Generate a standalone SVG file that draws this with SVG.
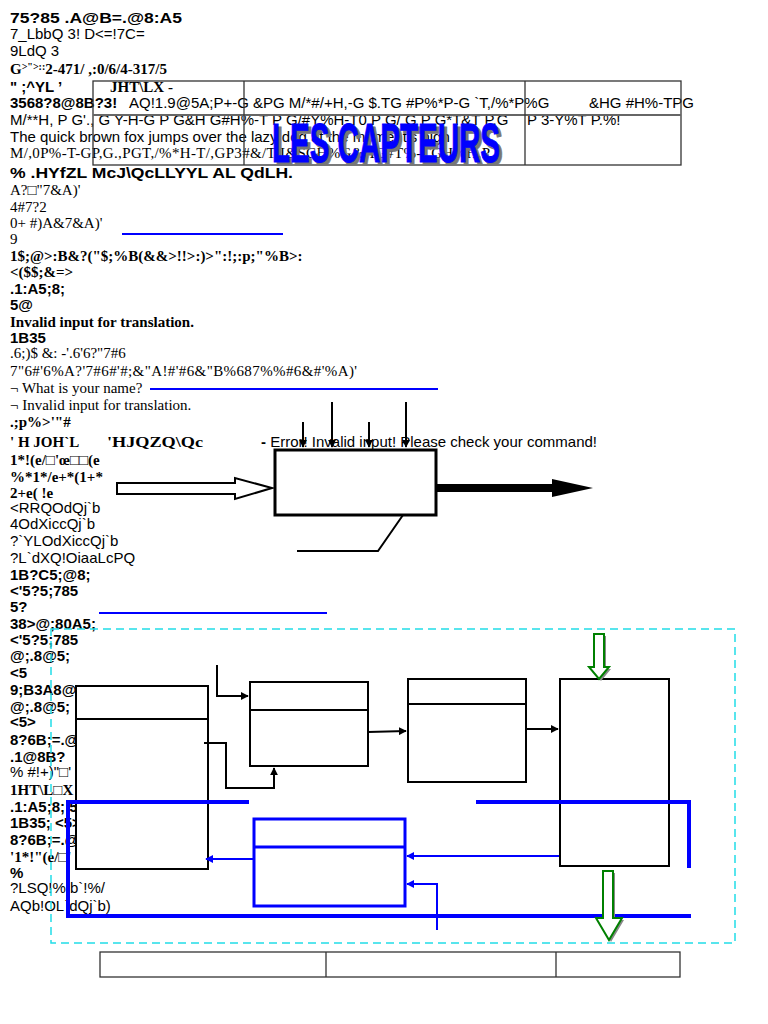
<svg xmlns="http://www.w3.org/2000/svg" width="768" height="1024" viewBox="0 0 768 1024">
<style>
.sb{font-family:"Liberation Sans",Arial,sans-serif;font-weight:bold;font-size:15px;fill:#000}
.sr{font-family:"Liberation Sans",Arial,sans-serif;font-size:15px;fill:#000}
.fb{font-family:"Liberation Serif","Times New Roman",serif;font-weight:bold;font-size:15px;fill:#000}
.fr{font-family:"Liberation Serif","Times New Roman",serif;font-size:15px;fill:#000}
.box{fill:#fff;stroke:#000;stroke-width:2}
.bbox{fill:#fff;stroke:#0000ff;stroke-width:3}
.div{stroke:#000;stroke-width:2}
.bl{stroke:#0000ff;stroke-width:4;fill:none}
.tl{stroke:#0000ff;stroke-width:2;fill:none}
.k{stroke:#000;stroke-width:2;fill:none}
.tb{fill:none;stroke:#333;stroke-width:1.3}
</style>
<defs>
<marker id="ak" viewBox="0 0 10 10" refX="9" refY="5" markerWidth="4" markerHeight="4" orient="auto"><path d="M0,0 L10,5 L0,10 z" fill="#000"/></marker>
<marker id="ab" viewBox="0 0 10 10" refX="9" refY="5" markerWidth="4" markerHeight="4" orient="auto"><path d="M0,0 L10,5 L0,10 z" fill="#0000ff"/></marker>
</defs>
<rect width="768" height="1024" fill="#fff"/>

<g id="textcolumn">
<text class="sb" x="10" y="23" font-size="18" textLength="172" lengthAdjust="spacingAndGlyphs">75?85 .A@B=.@8:A5</text>
<text class="sr" x="10" y="39">7_LbbQ 3! D&lt;=!7C=</text>
<text class="sr" x="10" y="56">9LdQ 3</text>
<text class="fb" x="10" y="74" font-size="14.5">G<tspan font-size="10" dy="-4">&gt;"&gt;::</tspan><tspan dy="4">2-471/ ,:0/6/4-317/5</tspan></text>
<text class="sb" x="10" y="92">" ;^YL ’</text>
<text class="fb" x="110" y="92" font-size="16">JHT\LX    -</text>
<text class="sb" x="10" y="108">3568?8@8B?3!</text>
<text class="sr" x="129" y="108">AQ!1.9@5A;P+-G &amp;PG M/*#/+H,-G $.TG #P%*P-G `T,/%*P%G</text>
<text class="sr" x="589" y="108">&amp;HG #H%-TPG</text>
<text class="sr" x="10" y="125">M/**H, P G'., G Y-H-G P G&amp;H G#H%-T P G/#Y%H-T0 P G/  G P G*T&amp;T P.G</text>
<text class="sr" x="527" y="125">P 3-Y%T P.%!</text>
<text class="sr" x="10" y="142">The quick brown fox jumps over the lazy dog at the moment's high</text>
<text class="fr" x="10" y="158" font-size="14" textLength="480" lengthAdjust="spacing">M/,0P%-T-GP,G.,PGT,/%*H-T/,GP3#&amp;/T-I&amp;SCH%G&amp;HG#T%-TGH%H,P</text>
<text class="sb" x="10" y="178" font-size="18" textLength="283" lengthAdjust="spacingAndGlyphs">% .HYfZL McJ\QcLLYYL AL QdLH.</text>
<text class="fr" x="10" y="195">A?□"7&amp;A)'</text>
<text class="fr" x="10" y="212">4#7?2</text>
<text class="fr" x="10" y="228">0+ #)A&amp;7&amp;A)'</text>
<text class="fr" x="10" y="244">9</text>
<text class="fb" x="10" y="261">1$;@&gt;:B&amp;?("$;%B(&amp;&amp;&gt;!!&gt;:)&gt;":!;:p;"%B&gt;:</text>
<text class="fb" x="10" y="277">&lt;($$;&amp;=&gt;</text>
<text class="sb" x="10" y="294">.1:A5;8;</text>
<text class="sb" x="10" y="310" font-size="16">5@</text>
<text class="fb" x="10" y="327">Invalid input for translation.</text>
<text class="sb" x="10" y="343">1B35</text>
<text class="fr" x="10" y="358">.6;)$ &amp;: -'.6'6?"7#6</text>
<text class="fr" x="10" y="376" textLength="347" lengthAdjust="spacing">7"6#'6%A?'7#6#'#;&amp;"A!#'#6&amp;"B%687%%#6&amp;#'%A)'</text>
<text class="fr" x="10" y="393">¬ What is your name?</text>
<text class="fr" x="10" y="410">¬ Invalid input for translation.</text>
<text class="fb" x="10" y="427">.;p%&gt;'"#</text>
<text class="fb" x="10" y="447" font-size="17">' H JOH`L</text>
<text class="fb" x="107" y="447" font-size="17" textLength="96" lengthAdjust="spacingAndGlyphs">'HJQZQ\Qc</text>
<text class="sr" x="261" y="447"><tspan font-weight="bold">-</tspan> Error! Invalid input! Please check your command!</text>
<text class="fb" x="10" y="465">1*!(e/□'œ□□(e</text>
<text class="fb" x="10" y="482">%*1*/e+*(1+*</text>
<text class="fb" x="10" y="498">2+e( !e</text>
<text class="sr" x="10" y="513">&lt;RRQOdQj`b</text>
<text class="sr" x="10" y="529">4OdXiccQj`b</text>
<text class="sr" x="10" y="546">?`YLOdXiccQj`b</text>
<text class="sr" x="10" y="563">?L`dXQ!OiaaLcPQ</text>
<text class="sb" x="10" y="580">1B?C5;@8;</text>
<text class="sb" x="10" y="596">&lt;'5?5;785</text>
<text class="sb" x="10" y="612">5?</text>
<text class="sb" x="10" y="629">38&gt;@;80A5;</text>
<text class="sb" x="10" y="645">&lt;'5?5;785</text>
<text class="sb" x="10" y="661">@;.8@5;</text>
<text class="sb" x="10" y="678">&lt;5</text>
<text class="sb" x="10" y="695">9;B3A8@</text>
<text class="sb" x="10" y="712">@;.8@5;</text>
<text class="sb" x="10" y="727">&lt;5&gt;</text>
<text class="sb" x="10" y="745">8?6B;=.@</text>
<text class="sb" x="10" y="762">.1@8B?</text>
<text class="sr" x="10" y="777" font-size="12">% #!+)"□'</text>
<text class="fb" x="10" y="795">1HT\L□X</text>
<text class="sb" x="10" y="812">.1:A5;8; 5@</text>
<text class="sb" x="10" y="828">1B35; &lt;5&gt;</text>
<text class="sb" x="10" y="845">8?6B;=.@</text>
<text class="fb" x="10" y="862">'1*!"(e/□'</text>
<text class="sb" x="10" y="878">%</text>
<text class="sr" x="10" y="893" font-size="12">?LSQ!% b`!%/</text>
<text class="sr" x="10" y="911">AQb!OL`dQj`b)</text>
</g>

<g id="top-table">
<rect class="tb" x="93" y="81" width="588" height="84"/>
<line x1="93" y1="115" x2="681" y2="115" stroke="#666" stroke-width="2"/>
<line class="tb" x1="244" y1="81" x2="244" y2="165"/>
<line class="tb" x1="525" y1="81" x2="525" y2="165"/>
</g>

<g id="title">
<text x="275" y="165" font-family="'Liberation Sans',Arial,sans-serif" font-weight="bold" font-size="55" fill="#777" stroke="#777" stroke-width="1" textLength="228" lengthAdjust="spacingAndGlyphs">LES CAPTEURS</text>
<text x="272" y="162" font-family="'Liberation Sans',Arial,sans-serif" font-weight="bold" font-size="55" fill="#0000ff" stroke="#0000ff" stroke-width="1" textLength="228" lengthAdjust="spacingAndGlyphs">LES CAPTEURS</text>
</g>

<g id="process-box">
<rect x="275" y="450" width="161" height="65" fill="#fff" stroke="#000" stroke-width="3"/>
</g>

<g id="bottom-frame">
<rect x="51" y="629" width="684" height="314" fill="none" stroke="#22dde8" stroke-width="1.5" stroke-dasharray="8,5"/>
</g>

<g id="box-A"><rect class="box" x="76" y="686" width="132" height="183"/><line class="div" x1="76" y1="719" x2="209" y2="719"/></g>
<g id="box-B"><rect class="box" x="250" y="682" width="118" height="84"/><line class="div" x1="250" y1="710" x2="368" y2="710"/></g>
<g id="box-C"><rect class="box" x="408" y="679" width="118" height="103"/><line class="div" x1="408" y1="704" x2="527" y2="704"/></g>
<g id="box-D"><rect class="box" x="560" y="679" width="109" height="187"/></g>
<g id="box-E"><rect class="bbox" x="254" y="819" width="151" height="87"/><line stroke="#0000ff" stroke-width="3" x1="253" y1="847" x2="405" y2="847"/></g>

<g id="bottom-table">
<rect class="tb" x="100" y="952" width="580" height="25" stroke="#222"/>
<line class="tb" x1="326" y1="952" x2="326" y2="977" stroke="#222"/>
<line class="tb" x1="556" y1="952" x2="556" y2="977" stroke="#222"/>
</g>

<g id="connectors">
<line x1="122" y1="234" x2="283" y2="234" stroke="#0000ff" stroke-width="2"/>
<line x1="150" y1="389" x2="438" y2="389" stroke="#0000ff" stroke-width="2"/>
<line x1="99" y1="613" x2="327" y2="613" stroke="#0000ff" stroke-width="2"/>
<line class="k" x1="303" y1="422" x2="303" y2="447" stroke-width="1.5" marker-end="url(#ak)"/>
<line class="k" x1="332" y1="402" x2="332" y2="447" stroke-width="1.5" marker-end="url(#ak)"/>
<line class="k" x1="369" y1="422" x2="369" y2="447" stroke-width="1.5" marker-end="url(#ak)"/>
<line class="k" x1="406" y1="402" x2="406" y2="447" stroke-width="1.5" marker-end="url(#ak)"/>
<polygon points="117,483 235,483 235,478 272,488 235,499 235,494 117,494" fill="#fff" stroke="#000" stroke-width="2"/>
<polygon points="436,484 552,484 552,479 593,488 552,497 552,492 436,492" fill="#000"/>
<polyline points="403,515 378,551 297,551" class="k" stroke-width="1.5"/>

<path class="k" d="M217,665 V696 H248" marker-end="url(#ak)"/>
<path class="k" d="M204,743 H226 V788 H274 V768" marker-end="url(#ak)"/>
<path class="k" d="M368,732 L406,731" marker-end="url(#ak)"/>
<path class="k" d="M527,729 L558,729" marker-end="url(#ak)"/>

<path class="bl" d="M249,802 H68 V916 H691"/>
<path class="bl" d="M476,802 H689 V868"/>
<path class="tl" d="M559,856 H407" marker-end="url(#ab)"/>
<path class="tl" d="M253,859 H206" marker-end="url(#ab)"/>
<path class="tl" d="M437,930 V884 H407" marker-end="url(#ab)"/>

<polygon points="596,636 606,636 606,669 611,669 601,681 591,669 596,669" fill="#888"/>
<polygon points="594,634 604,634 604,667 609,667 599,679 589,667 594,667" fill="#fff" stroke="#008000" stroke-width="2"/>
<polygon points="605,873 615,873 615,920 624,920 611,942 598,920 605,920" fill="#888"/>
<polygon points="603,871 613,871 613,918 622,918 609,940 596,918 603,918" fill="#fff" stroke="#008000" stroke-width="2"/>
</g>
</svg>
